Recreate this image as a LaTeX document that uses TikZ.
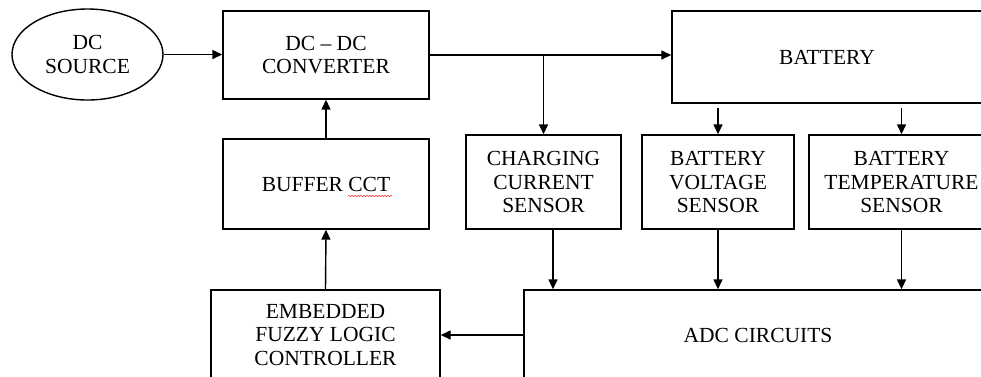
\documentclass[tikz,border=0pt]{standalone}
\usepackage{fontspec}
\setmainfont{Liberation Serif}
\usetikzlibrary{arrows.meta,shapes.geometric,decorations.pathmorphing}
\begin{document}
\begin{tikzpicture}[x=1pt, y=-1pt, line width=1.4pt,
    blk/.style={draw, rectangle, align=center, inner sep=0pt,
                font=\fontsize{21.5}{23.5}\selectfont},
    arr/.style={-{Triangle[length=10pt,width=9pt]}}]
    \useasboundingbox (0,0) rectangle (981,376);
    \clip (0,0) rectangle (981,376);

    % ===== power path =====
    \node[blk, ellipse, minimum width=151pt, minimum height=91pt] (src) at (87.5,54.5) {DC\\SOURCE};
    \node[blk, minimum width=206pt, minimum height=88pt] (conv) at (326,55) {DC -- DC\\CONVERTER};
    \node[blk, minimum width=310pt, minimum height=92pt] (bat) at (827,57) {BATTERY};

    % ===== sensors =====
    \node[blk, minimum width=155pt, minimum height=94pt] (chg) at (543.5,182) {CHARGING\\CURRENT\\SENSOR};
    \node[blk, minimum width=152pt, minimum height=94pt] (vol) at (718,182) {BATTERY\\VOLTAGE\\SENSOR};
    \node[blk, minimum width=185pt, minimum height=94pt] (tmp) at (901.5,182) {BATTERY\\TEMPERATURE\\SENSOR};

    % ===== control path =====
    \node[blk, minimum width=206pt, minimum height=90pt] (buf) at (326,184) {BUFFER CCT};
    \node[blk, minimum width=229pt, minimum height=90pt] (flc) at (325.5,335) {EMBEDDED\\FUZZY LOGIC\\CONTROLLER};
    \node[blk, minimum width=468pt, minimum height=90pt] (adc) at (758,335) {ADC CIRCUITS};

    % spell-check squiggle under CCT
    \draw[red!80, line width=0.5pt, decorate, decoration={snake, amplitude=0.8pt, segment length=3pt}]
        (348,196) -- (392,196);

    % ===== connectors =====
    \draw[arr] (src.east) -- (src.east -| conv.west);
    \draw[arr] (conv.east) -- (conv.east -| bat.west);
    \coordinate (br) at (conv.east -| chg.north);
    \draw[arr] (br) -- (chg.north);
    \draw[arr, shorten <=4pt] (bat.south -| vol.north) -- (vol.north);
    \draw[arr, shorten <=4pt] (bat.south -| tmp.north) -- (tmp.north);
    \draw[arr] ([xshift=9.5pt]chg.south) -- ([xshift=9.5pt]chg.south |- adc.north);
    \draw[arr] (vol.south) -- (vol.south |- adc.north);
    \draw[arr] (tmp.south) -- (tmp.south |- adc.north);
    \draw[arr] (adc.west) -- (flc.east);
    \draw[arr] (flc.north) -- (buf.south);
    \draw[arr] (buf.north) -- (buf.north |- conv.south);
\end{tikzpicture}
\end{document}
